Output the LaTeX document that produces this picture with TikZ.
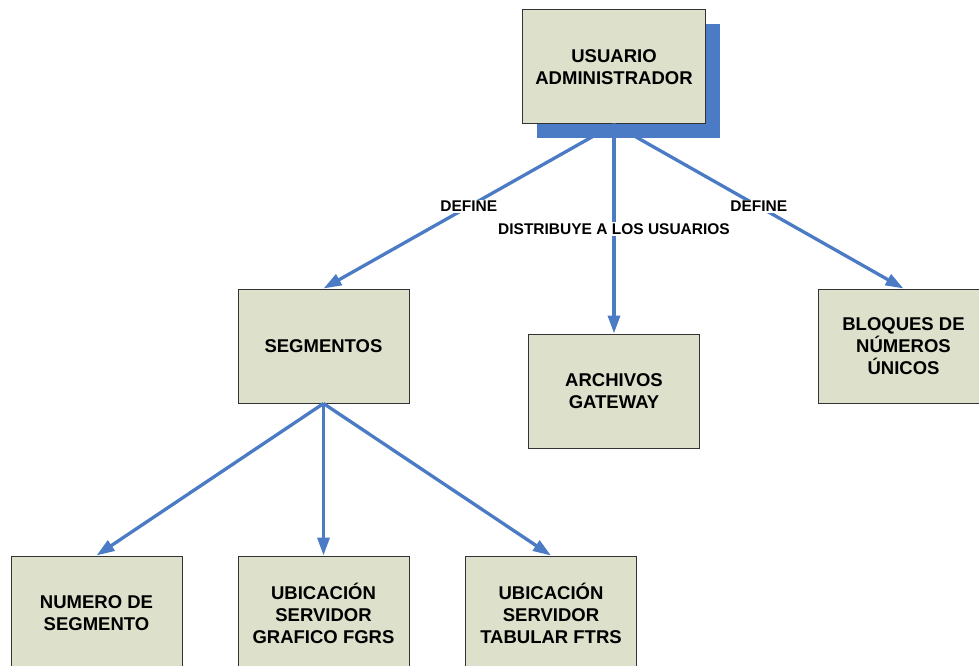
\documentclass[tikz,border=0pt]{standalone}
\usepackage{fontspec}
\setmainfont{Liberation Sans}
\usetikzlibrary{arrows.meta}
\definecolor{lineblue}{HTML}{4A7BC4}
\definecolor{boxfill}{HTML}{DDE0CB}
\begin{document}
\begin{tikzpicture}[x=1pt,y=-1pt,
  box/.style={draw=black!80, line width=1pt, fill=boxfill, minimum width=171pt, minimum height=114pt, inner sep=0pt, align=center, font=\fontsize{18.5}{22}\selectfont\bfseries},
  conn/.style={draw=lineblue, line width=3.3pt, -{Triangle[length=18pt,width=12pt]}},
  lbl/.style={fill=white, inner sep=1.5pt, font=\fontsize{15.5}{18}\selectfont\bfseries}]
\useasboundingbox (0,0) rectangle (979,666);
\fill[lineblue] (537,24) rectangle (720,138);
\node[box, minimum width=183pt] (admin) at (614,67) {USUARIO\\ADMINISTRADOR};
\node[box] (seg) at (323.5,346) {SEGMENTOS};
\node[box] (arch) at (614,391) {ARCHIVOS\\GATEWAY};
\node[box] (bloq) at (903.5,346) {BLOQUES DE\\NÚMEROS\\ÚNICOS};
\node[box] (num) at (96.5,613) {NUMERO DE\\SEGMENTO};
\node[box] (graf) at (323.5,613) {UBICACIÓN\\SERVIDOR\\GRAFICO FGRS};
\node[box] (tab) at (551,613) {UBICACIÓN\\SERVIDOR\\TABULAR FTRS};
\draw[conn] (admin.south) -- node[lbl] {DEFINE} (seg.north);
\draw[conn] (admin.south) -- node[lbl] {DEFINE} (bloq.north);
\draw[conn] (admin.south) -- node[lbl] {DISTRIBUYE A LOS USUARIOS} (arch.north);
\draw[conn] (seg.south) -- (num.north);
\draw[conn] (seg.south) -- (graf.north);
\draw[conn] (seg.south) -- (tab.north);
\end{tikzpicture}
\end{document}
